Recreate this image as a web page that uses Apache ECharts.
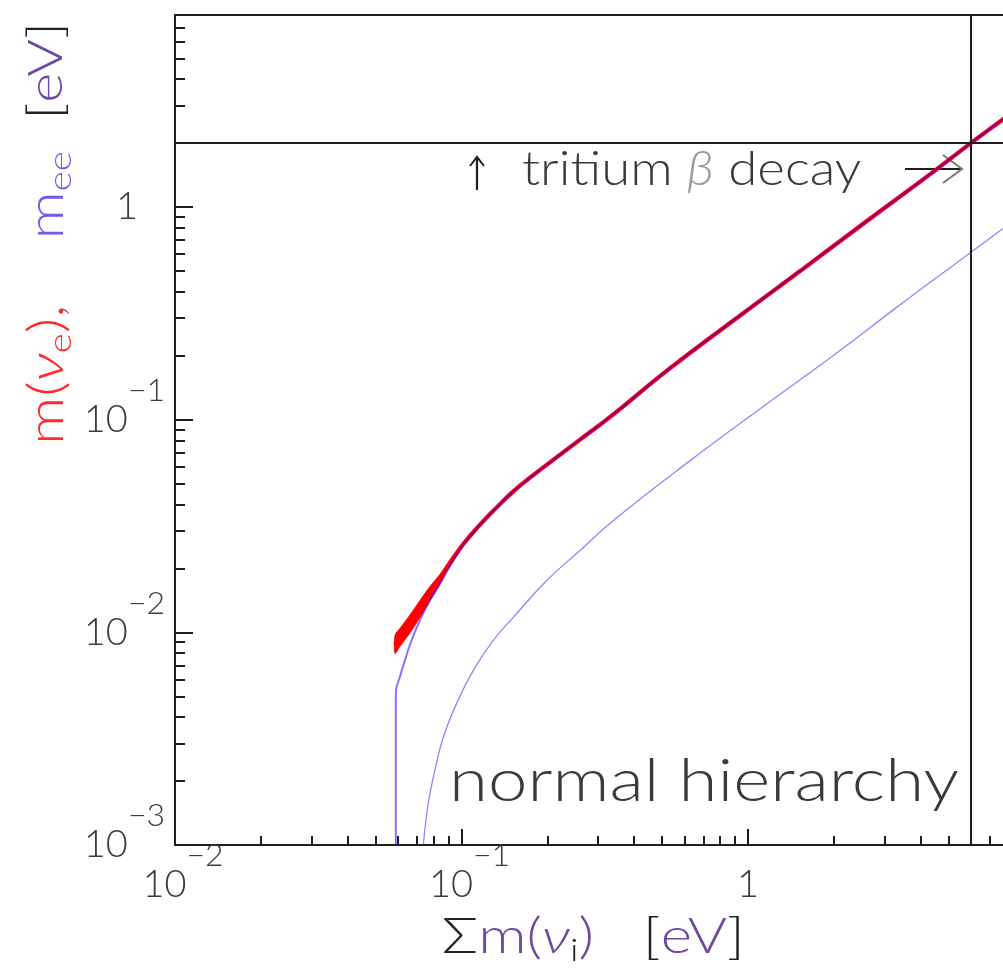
<!DOCTYPE html>
<html>
<head>
<meta charset="utf-8">
<script src="https://cdn.jsdelivr.net/npm/echarts@6/dist/echarts.min.js"></script>
<style>
  html, body { margin: 0; padding: 0; background: #ffffff; }
  #chart { width: 1003px; height: 968px; }
</style>
</head>
<body>
<div id="chart"></div>
<script>
// ---- axis ranges and ticks (eV) ----
const sumRange = [0.01, 10];
const massRange = [0.001, 8];
const sumMajorTicks = [0.01, 0.1, 1, 10];
const sumTickLabels = [0.01, 0.1, 1];
const sumMinorTicks = [0.02, 0.03, 0.04, 0.05, 0.06, 0.07, 0.08, 0.09,
                       0.2, 0.3, 0.4, 0.5, 0.6, 0.7, 0.8, 0.9,
                       2, 3, 4, 5, 6, 7, 8, 9];
const massMajorTicks = [0.001, 0.01, 0.1, 1];
const massMinorTicks = [0.002, 0.003, 0.004, 0.005, 0.006, 0.007, 0.008, 0.009,
                        0.02, 0.03, 0.04, 0.05, 0.06, 0.07, 0.08, 0.09,
                        0.2, 0.3, 0.4, 0.5, 0.6, 0.7, 0.8, 0.9,
                        2, 3, 4, 5, 6, 7, 8];

// ---- experimental limits (eV) ----
const tritiumLimit = 2;     // m(nu_e) upper limit from tritium beta decay
const sumLimit = 6;         // corresponding limit on the mass sum

// ---- m(nu_e) versus sum of masses, normal hierarchy ----
const sumNuE = [0.0586, 0.0610, 0.0663, 0.0716, 0.0776, 0.0890, 0.1012, 0.1161, 0.1330,
                0.1513, 0.1734, 0.1987, 0.2592, 0.338, 0.521, 0.887, 1.52, 2.60, 4.42,
                5.96, 7.77, 10];
const mNuE   = [0.00878, 0.00947, 0.01102, 0.01289, 0.01525, 0.0202, 0.0259, 0.0321, 0.0388,
                0.0459, 0.0534, 0.0615, 0.0806, 0.1056, 0.170, 0.292, 0.500, 0.860, 1.460,
                1.987, 2.589, 3.33];

// uncertainty band of m(nu_e) near the lightest masses
const bandSum  = [0.0586, 0.0610, 0.0663, 0.0716, 0.0776, 0.0841, 0.0890, 0.1012];
const bandLow  = [0.00797, 0.00859, 0.0100, 0.01176, 0.01413, 0.01693, 0.01955, 0.0253];
const bandHigh = [0.00968, 0.01044, 0.01215, 0.01413, 0.01643, 0.01872, 0.0209, 0.0264];

// ---- effective Majorana mass m_ee: upper edge ----
const sumMeeUp = [0.0590, 0.0590, 0.0610, 0.0635, 0.0670, 0.0716, 0.0776, 0.0841, 0.0940,
                  0.1012, 0.1161, 0.1330, 0.1513, 0.1734, 0.1987, 0.2592, 0.338, 0.521,
                  0.887, 1.52, 2.60, 4.42, 5.96, 7.77, 10];
const meeUp    = [0.0010, 0.0052, 0.0062, 0.0074, 0.0092, 0.0114, 0.0141, 0.0169, 0.0220,
                  0.0257, 0.0320, 0.0387, 0.0458, 0.0533, 0.0614, 0.0805, 0.1055, 0.170,
                  0.292, 0.500, 0.860, 1.460, 1.987, 2.589, 3.33];

// ---- effective Majorana mass m_ee: lower edge ----
const sumMeeLow = [0.0736, 0.0766, 0.0808, 0.0864, 0.0962, 0.1100, 0.1291, 0.1516, 0.1984,
                   0.2592, 0.3388, 0.6277, 1.165, 1.980, 3.393, 5.955, 7.762, 10];
const meeLow    = [0.00100, 0.00158, 0.00225, 0.00321, 0.00464, 0.00663, 0.00917, 0.01176, 0.01754,
                   0.02427, 0.03357, 0.0642, 0.1189, 0.1998, 0.3467, 0.6081, 0.7925, 1.02];

const pairs = (xs, ys) => xs.map((x, i) => [x, ys[i]]);

const frameColor = '#1e1e1e';
const labelColor = '#3c3c3c';
const tickFont = 'Lato, Liberation Sans, sans-serif';
const textFont = 'Lato, DejaVu Sans, sans-serif';

function powerLabel(v) {
  const e = Math.round(Math.log10(v));
  if (e === 0) return '{one|1}';
  return '{b|10}{s|' + (e < 0 ? '\u2212' + (-e) : String(e)) + '}';
}

function labelRich(padBase, padOne) {
  return {
    b:   { fontSize: 38, lineHeight: 90, fontFamily: tickFont, fontWeight: 300, color: labelColor, verticalAlign: 'middle', padding: padBase },
    s:   { fontSize: 32, lineHeight: 34, fontFamily: tickFont, fontWeight: 300, color: labelColor, verticalAlign: 'top' },
    one: { fontSize: 38, lineHeight: 90, fontFamily: tickFont, fontWeight: 300, color: labelColor, verticalAlign: 'middle', padding: padOne }
  };
}

// rich text token helper for the light annotation font
function tok(size, fill, extra) {
  return Object.assign({ fontSize: size, lineHeight: 60, fontFamily: textFont, fontWeight: 300, fill: fill }, extra || {});
}

const lineFrame = { show: true, lineStyle: { color: frameColor, width: 2 } };
const noLabel = { show: false };
const noSplit = { show: false };

const chart = echarts.init(document.getElementById('chart'), null, { renderer: 'canvas' });

chart.setOption({
  animation: false,
  backgroundColor: '#ffffff',
  grid: { left: 175, right: -31.5, top: 15, bottom: 123, containLabel: false, outerBoundsMode: 'none' },
  xAxis: [
    {
      type: 'log', min: sumRange[0], max: sumRange[1], position: 'bottom',
      axisLine: lineFrame,
      axisTick: { show: true, inside: true, length: 16, customValues: sumMajorTicks,
                  lineStyle: { color: frameColor, width: 2 } },
      axisLabel: { show: true, customValues: sumTickLabels, formatter: powerLabel,
                   margin: 40, verticalAlign: 'middle', align: 'center',
                   rich: labelRich([0, 0, 0, 16], [0, 0, 0, 0]) },
      splitLine: noSplit, minorTick: { show: false }
    },
    {
      type: 'log', min: sumRange[0], max: sumRange[1], position: 'bottom',
      axisLine: { show: false },
      axisTick: { show: true, inside: true, length: 9, customValues: sumMinorTicks,
                  lineStyle: { color: frameColor, width: 2 } },
      axisLabel: noLabel, splitLine: noSplit
    },
    {
      type: 'log', min: sumRange[0], max: sumRange[1], position: 'top',
      axisLine: lineFrame, axisTick: { show: false }, axisLabel: noLabel, splitLine: noSplit
    }
  ],
  yAxis: [
    {
      type: 'log', min: massRange[0], max: massRange[1], position: 'left',
      axisLine: lineFrame,
      axisTick: { show: true, inside: true, length: 18, customValues: massMajorTicks,
                  lineStyle: { color: frameColor, width: 2 } },
      axisLabel: { show: true, customValues: massMajorTicks, formatter: powerLabel,
                   margin: 10, align: 'right', verticalAlign: 'middle',
                   rich: labelRich([0, 0, 0, 0], [0, 27, 0, 0]) },
      splitLine: noSplit, minorTick: { show: false }
    },
    {
      type: 'log', min: massRange[0], max: massRange[1], position: 'left',
      axisLine: { show: false },
      axisTick: { show: true, inside: true, length: 10, customValues: massMinorTicks,
                  lineStyle: { color: frameColor, width: 2 } },
      axisLabel: noLabel, splitLine: noSplit
    },
    {
      type: 'log', min: massRange[0], max: massRange[1], position: 'right',
      axisLine: lineFrame, axisTick: { show: false }, axisLabel: noLabel, splitLine: noSplit
    }
  ],
  series: [
    {
      // experimental limits: horizontal m(nu_e) line and vertical sum line
      type: 'line', xAxisIndex: 0, yAxisIndex: 0, z: 1,
      data: [[sumLimit, tritiumLimit]], showSymbol: false, lineStyle: { opacity: 0 },
      silent: true,
      markLine: {
        silent: true, symbol: ['none', 'none'], label: { show: false },
        lineStyle: { color: frameColor, width: 2, type: 'solid' },
        emphasis: { disabled: true },
        data: [{ yAxis: tritiumLimit }, { xAxis: sumLimit }]
      }
    },
    {
      // m(nu_e) band near the lightest masses
      type: 'custom', xAxisIndex: 0, yAxisIndex: 0, z: 2, clip: true, silent: true,
      data: [[bandSum[0], bandLow[0]]],
      renderItem: function (params, api) {
        const pts = [];
        for (let i = 0; i < bandSum.length; i++) pts.push(api.coord([bandSum[i], bandLow[i]]));
        for (let i = bandSum.length - 1; i >= 0; i--) pts.push(api.coord([bandSum[i], bandHigh[i]]));
        return { type: 'polygon', shape: { points: pts, smooth: 0.3 },
                 style: { fill: '#ff0000', stroke: '#ff0000', lineWidth: 0.8 } };
      }
    },
    {
      // m(nu_e)
      type: 'line', xAxisIndex: 0, yAxisIndex: 0, z: 3, silent: true,
      data: pairs(sumNuE, mNuE), showSymbol: false, smooth: 0.5, clip: true,
      lineStyle: { color: '#ff0000', width: 4.2, cap: 'butt' }
    },
    {
      // m_ee upper edge
      type: 'line', xAxisIndex: 0, yAxisIndex: 0, z: 4, silent: true,
      data: pairs(sumMeeUp, meeUp), showSymbol: false, smooth: 0.45, clip: true,
      lineStyle: { color: 'rgba(40,0,255,0.55)', width: 2 }
    },
    {
      // m_ee lower edge
      type: 'line', xAxisIndex: 0, yAxisIndex: 0, z: 4, silent: true,
      data: pairs(sumMeeLow, meeLow), showSymbol: false, smooth: 0.45, clip: true,
      lineStyle: { color: 'rgba(40,40,255,0.55)', width: 1.3 }
    }
  ],
  graphic: [
    {
      // upward arrow next to the limit line
      type: 'group', silent: true,
      children: [
        { type: 'line', shape: { x1: 477, y1: 190, x2: 477, y2: 157 },
          style: { stroke: '#1e1e1e', lineWidth: 2.2 } },
        { type: 'polyline', shape: { points: [[470, 166], [477, 157], [484, 166]] },
          style: { stroke: '#1e1e1e', lineWidth: 2, fill: null } }
      ]
    },
    {
      type: 'text', x: 522, y: 170, scaleX: 1.1, silent: true,
      style: { text: '{t|tritium }{g|\u03b2}{t| decay}', textAlign: 'left', textVerticalAlign: 'middle',
               rich: { t: tok(48, '#3a3a3a'), g: tok(48, '#9a9a9a', { fontStyle: 'italic' }) } }
    },
    {
      // rightward arrow pointing at the sum limit
      type: 'group', silent: true,
      children: [
        { type: 'line', shape: { x1: 905, y1: 169, x2: 962, y2: 169 },
          style: { stroke: '#1e1e1e', lineWidth: 2 } },
        { type: 'polyline', shape: { points: [[943, 155], [962, 169], [943, 183]] },
          style: { stroke: '#777777', lineWidth: 2, fill: null } }
      ]
    },
    {
      type: 'text', x: 449, y: 782, scaleX: 1.18, silent: true,
      style: { text: '{t|normal hierarchy}', textAlign: 'left', textVerticalAlign: 'middle',
               rich: { t: tok(60, '#3a3a3a', { lineHeight: 70 }) } }
    },
    {
      // horizontal axis title
      type: 'text', x: 442, y: 937, scaleX: 1.2, silent: true,
      style: {
        text: '{k|\u03a3}{p|m(}{nu|\u03bd}{sub|i}{p|)}{k|   [}{p|eV}{k|]}',
        textAlign: 'left', textVerticalAlign: 'middle',
        rich: {
          k:   tok(50, '#222222'),
          p:   tok(50, '#6e4a9e'),
          nu:  tok(50, '#6e4a9e', { fontStyle: 'italic' }),
          sub: tok(32, '#222222', { lineHeight: 34, verticalAlign: 'bottom' })
        }
      }
    },
    {
      // vertical axis title
      type: 'text', x: 47, y: 445, rotation: Math.PI / 2, scaleX: 1.2, silent: true,
      style: {
        text: '{r|m(}{rn|\u03bd}{rs|e}{r|),}{r|    }{b|m}{bs|ee}{k|  [}{p|eV}{k|]}',
        textAlign: 'left', textVerticalAlign: 'middle',
        rich: {
          r:  tok(50, '#ff2a2a'),
          rn: tok(50, '#ff2a2a', { fontStyle: 'italic' }),
          rs: tok(32, '#ff2a2a', { lineHeight: 34, verticalAlign: 'bottom' }),
          b:  tok(50, '#6f5ce8'),
          bs: tok(32, '#6f5ce8', { lineHeight: 34, verticalAlign: 'bottom' }),
          k:  tok(48, '#222222'),
          p:  tok(48, '#6e4a9e')
        }
      }
    }
  ]
});
</script>
</body>
</html>
